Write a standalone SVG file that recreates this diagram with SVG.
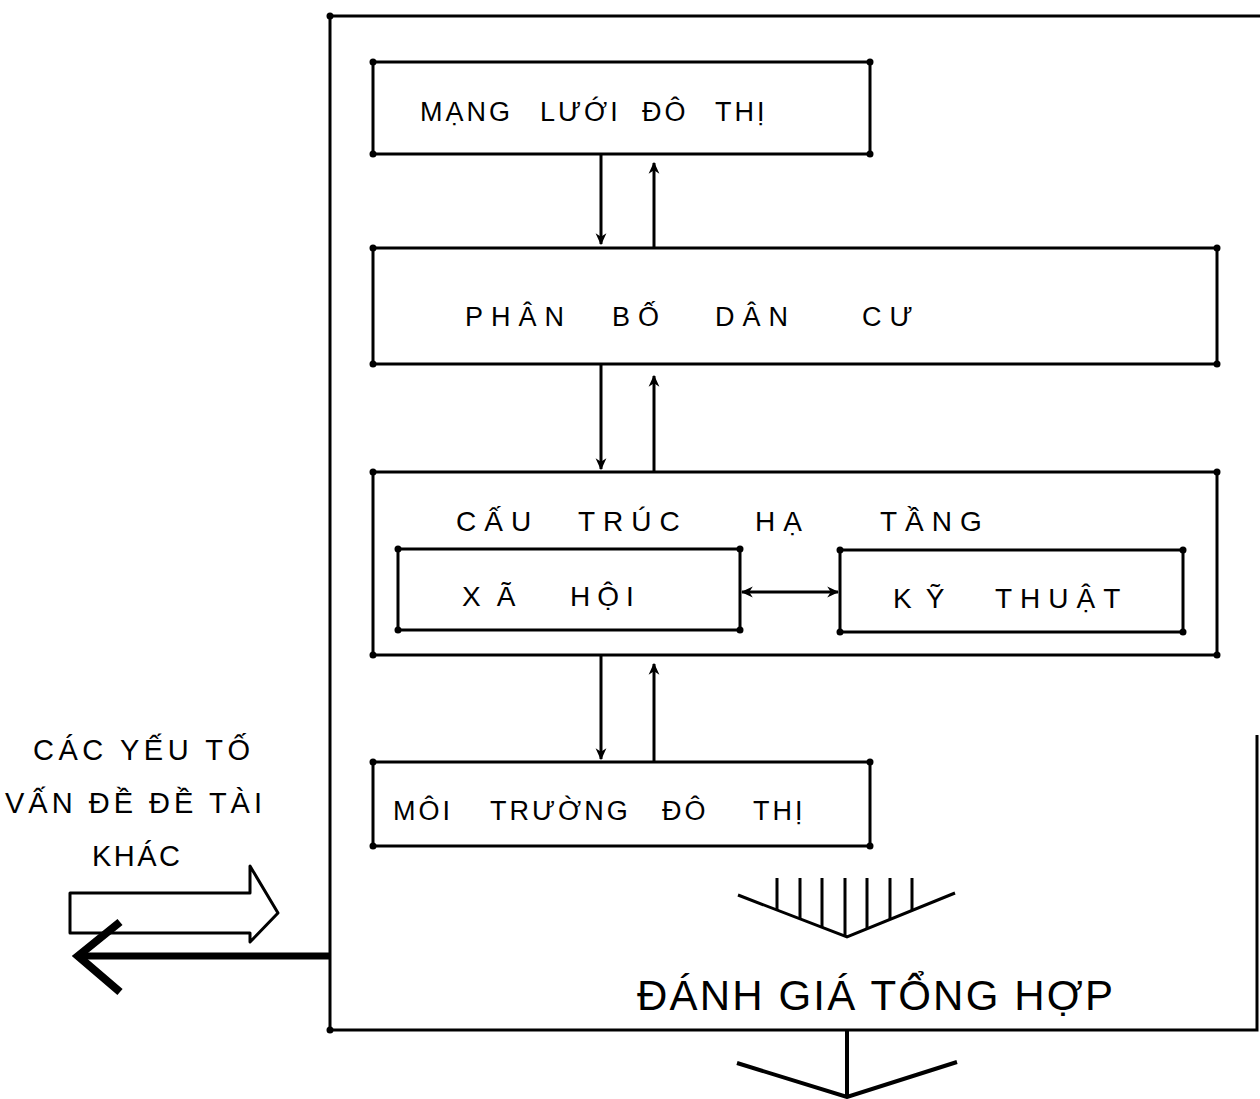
<svg xmlns="http://www.w3.org/2000/svg" width="1260" height="1099" viewBox="0 0 1260 1099">
<defs>
<style>
.box{fill:none;stroke:#000;stroke-width:3}
.dot{fill:#000}
.ln{fill:none;stroke:#000;stroke-width:3}
.t{font-family:"Liberation Sans","DejaVu Sans",sans-serif;fill:#000}
</style>
<marker id="ah" viewBox="0 0 10 10" refX="9" refY="5" markerWidth="12" markerHeight="12" markerUnits="userSpaceOnUse" orient="auto-start-reverse">
<path d="M0,0.5 L10,5 L0,9.5 L3,5 Z" fill="#000"/>
</marker>
</defs>
<rect width="1260" height="1099" fill="#fff"/>

<g id="frame">
<path class="ln" d="M1260,16 L330,16 L330,1030 L1257,1030 L1257,735"/>
<circle class="dot" cx="330" cy="16" r="3.5"/>
<circle class="dot" cx="330" cy="1030" r="3.5"/>
</g>

<g id="mang-luoi">
<rect class="box" x="373" y="62" width="497" height="92"/>
<circle class="dot" cx="373" cy="62" r="3.5"/><circle class="dot" cx="870" cy="62" r="3.5"/><circle class="dot" cx="373" cy="154" r="3.5"/><circle class="dot" cx="870" cy="154" r="3.5"/>
<text class="t" y="121" font-size="27" letter-spacing="3"><tspan x="420">MẠNG</tspan><tspan x="540">LƯỚI</tspan><tspan x="642">ĐÔ</tspan><tspan x="715">THỊ</tspan></text>
</g>

<g id="phan-bo">
<rect class="box" x="373" y="248" width="844" height="116"/>
<circle class="dot" cx="373" cy="248" r="3.5"/><circle class="dot" cx="1217" cy="248" r="3.5"/><circle class="dot" cx="373" cy="364" r="3.5"/><circle class="dot" cx="1217" cy="364" r="3.5"/>
<text class="t" y="326" font-size="27" letter-spacing="8"><tspan x="465">PHÂN</tspan><tspan x="612">BỐ</tspan><tspan x="715">DÂN</tspan><tspan x="862">CƯ</tspan></text>
</g>

<g id="cau-truc">
<rect class="box" x="373" y="472" width="844" height="183"/>
<circle class="dot" cx="373" cy="472" r="3.5"/><circle class="dot" cx="1217" cy="472" r="3.5"/><circle class="dot" cx="373" cy="655" r="3.5"/><circle class="dot" cx="1217" cy="655" r="3.5"/>
<text class="t" y="531" font-size="28" letter-spacing="8"><tspan x="456">CẤU</tspan><tspan x="578">TRÚC</tspan><tspan x="755">HẠ</tspan><tspan x="880">TẦNG</tspan></text>
</g>

<g id="xa-hoi">
<rect class="box" x="398" y="549" width="342" height="81"/>
<circle class="dot" cx="398" cy="549" r="3.5"/><circle class="dot" cx="740" cy="549" r="3.5"/><circle class="dot" cx="398" cy="630" r="3.5"/><circle class="dot" cx="740" cy="630" r="3.5"/>
<text class="t" y="606" font-size="28" letter-spacing="7"><tspan x="462" letter-spacing="16">XÃ</tspan><tspan x="570">HỘI</tspan></text>
</g>

<g id="ky-thuat">
<rect class="box" x="840" y="550" width="343" height="82"/>
<circle class="dot" cx="840" cy="550" r="3.5"/><circle class="dot" cx="1183" cy="550" r="3.5"/><circle class="dot" cx="840" cy="632" r="3.5"/><circle class="dot" cx="1183" cy="632" r="3.5"/>
<text class="t" y="608" font-size="28" letter-spacing="8"><tspan x="893" letter-spacing="14">KỸ</tspan><tspan x="995">THUẬT</tspan></text>
</g>

<g id="moi-truong">
<rect class="box" x="373" y="762" width="497" height="84"/>
<circle class="dot" cx="373" cy="762" r="3.5"/><circle class="dot" cx="870" cy="762" r="3.5"/><circle class="dot" cx="373" cy="846" r="3.5"/><circle class="dot" cx="870" cy="846" r="3.5"/>
<text class="t" y="820" font-size="27" letter-spacing="3"><tspan x="393">MÔI</tspan><tspan x="490">TRƯỜNG</tspan><tspan x="662">ĐÔ</tspan><tspan x="753">THỊ</tspan></text>
</g>

<g id="danh-gia">
<text class="t" x="637" y="1010" font-size="42" textLength="476" lengthAdjust="spacing">ĐÁNH GIÁ TỔNG HỢP</text>
</g>

<g id="cac-yeu-to">
<text class="t" x="33" y="760" font-size="29" textLength="217" lengthAdjust="spacing">CÁC YẾU TỐ</text>
<text class="t" x="5" y="813" font-size="29" textLength="257" lengthAdjust="spacing">VẤN ĐỀ ĐỀ TÀI</text>
<text class="t" x="92" y="866" font-size="29" textLength="88" lengthAdjust="spacing">KHÁC</text>
</g>

<g id="connectors">
<line class="ln" x1="601" y1="154" x2="601" y2="244" marker-end="url(#ah)"/>
<line class="ln" x1="654" y1="248" x2="654" y2="163" marker-end="url(#ah)"/>
<line class="ln" x1="601" y1="364" x2="601" y2="469" marker-end="url(#ah)"/>
<line class="ln" x1="654" y1="472" x2="654" y2="376" marker-end="url(#ah)"/>
<line class="ln" x1="601" y1="655" x2="601" y2="759" marker-end="url(#ah)"/>
<line class="ln" x1="654" y1="762" x2="654" y2="664" marker-end="url(#ah)"/>
<line class="ln" x1="742" y1="592" x2="838" y2="592" marker-start="url(#ah)" marker-end="url(#ah)"/>
<path d="M70,893 L250,893 L250,866 L278,913 L250,942 L250,933 L70,933 Z" fill="#fff" stroke="#000" stroke-width="3" stroke-linejoin="round"/>
<line x1="330" y1="956" x2="82" y2="956" stroke="#000" stroke-width="7"/>
<path d="M120,922 L78,956 L120,992" fill="none" stroke="#000" stroke-width="8"/>
<path class="ln" d="M738,895 L847,937 L955,893"/>
<path class="ln" d="M777,878 V910 M800,878 V919 M822,878 V927 M845,878 V936 M867,878 V929 M890,878 V920 M912,878 V911"/>
<path d="M847,1030 V1097 M737,1063 L847,1097 L957,1062" fill="none" stroke="#000" stroke-width="4"/>
</g>
</svg>
